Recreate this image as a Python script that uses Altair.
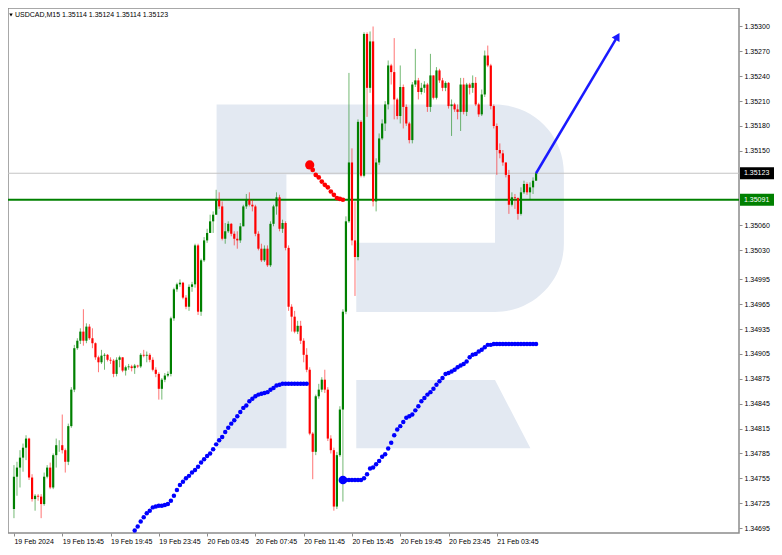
import altair as alt
import pandas as pd

# ---------------- data ----------------
time_labels = ["19 Feb 2024", "19 Feb 15:45", "19 Feb 19:45", "19 Feb 23:45",
               "20 Feb 03:45", "20 Feb 07:45", "20 Feb 11:45", "20 Feb 15:45",
               "20 Feb 19:45", "20 Feb 23:45", "21 Feb 03:45"]
time_label_bars = [0, 16, 32, 48, 64, 80, 96, 112, 128, 144, 160]
price_ticks = [1.35300, 1.35270, 1.35240, 1.35210, 1.35180, 1.35150, 1.35060,
               1.35030, 1.34995, 1.34965, 1.34935, 1.34905, 1.34875, 1.34845,
               1.34815, 1.34785, 1.34755, 1.34725, 1.34695]
header_text = "USDCAD,M15  1.35114 1.35124 1.35114 1.35123"

first_open = 1.34718
closes = [
    1.34757, 1.34768, 1.34780, 1.34792, 1.34803, 1.34756, 1.34730, 1.34734, 1.34733, 1.34724,
    1.34757, 1.34768, 1.34744, 1.34783, 1.34795, 1.34795, 1.34789, 1.34775, 1.34818, 1.34862,
    1.34912, 1.34921, 1.34932, 1.34921, 1.34938, 1.34924, 1.34918, 1.34901, 1.34895, 1.34903,
    1.34904, 1.34898, 1.34897, 1.34881, 1.34898, 1.34901, 1.34885, 1.34889, 1.34890, 1.34888,
    1.34891, 1.34890, 1.34904, 1.34903, 1.34904, 1.34898, 1.34886, 1.34881, 1.34863, 1.34874,
    1.34879, 1.34881, 1.34948, 1.34983, 1.34989, 1.34991, 1.34973, 1.34962, 1.34986, 1.34989,
    1.35036, 1.34956, 1.35018, 1.35042, 1.35051, 1.35065, 1.35073, 1.35091, 1.35083, 1.35044,
    1.35053, 1.35062, 1.35050, 1.35044, 1.35042, 1.35059, 1.35083, 1.35091, 1.35085, 1.35083,
    1.35050, 1.35032, 1.35018, 1.35032, 1.35012, 1.35062, 1.35083, 1.35094, 1.35056, 1.35063,
    1.35033, 1.34962, 1.34950, 1.34932, 1.34939, 1.34921, 1.34904, 1.34886, 1.34809, 1.34787,
    1.34854, 1.34862, 1.34874, 1.34862, 1.34803, 1.34789, 1.34721, 1.34783, 1.34838, 1.34956,
    1.35065, 1.35136, 1.35042, 1.35022, 1.35185, 1.35120, 1.35291, 1.35226, 1.35282, 1.35089,
    1.35136, 1.35165, 1.35183, 1.35206, 1.35253, 1.35245, 1.35212, 1.35192, 1.35227, 1.35203,
    1.35183, 1.35163, 1.35230, 1.35235, 1.35221, 1.35226, 1.35230, 1.35203, 1.35241, 1.35214,
    1.35247, 1.35235, 1.35226, 1.35232, 1.35204, 1.35206, 1.35200, 1.35197, 1.35230, 1.35197,
    1.35230, 1.35226, 1.35232, 1.35206, 1.35194, 1.35218, 1.35265, 1.35253, 1.35204, 1.35180,
    1.35151, 1.35147, 1.35136, 1.35121, 1.35085, 1.35094, 1.35093, 1.35074, 1.35100, 1.35110,
    1.35100, 1.35106, 1.35114, 1.35123]
highs = [
    1.34771, 1.34775, 1.34789, 1.34797, 1.34807, 1.34804, 1.34760, 1.34736, 1.34736, 1.34736,
    1.34762, 1.34771, 1.34774, 1.34785, 1.34803, 1.34801, 1.34832, 1.34791, 1.34821, 1.34865,
    1.34916, 1.34924, 1.34936, 1.34959, 1.34942, 1.34941, 1.34936, 1.34919, 1.34903, 1.34910,
    1.34906, 1.34905, 1.34901, 1.34899, 1.34901, 1.34903, 1.34901, 1.34891, 1.34893, 1.34892,
    1.34893, 1.34892, 1.34906, 1.34910, 1.34908, 1.34906, 1.34901, 1.34889, 1.34883, 1.34876,
    1.34882, 1.34884, 1.34950, 1.34985, 1.34991, 1.34995, 1.34992, 1.34976, 1.34989, 1.34992,
    1.35038, 1.35038, 1.35020, 1.35046, 1.35056, 1.35073, 1.35077, 1.35103, 1.35100, 1.35089,
    1.35063, 1.35065, 1.35063, 1.35053, 1.35053, 1.35063, 1.35085, 1.35098, 1.35100, 1.35091,
    1.35085, 1.35053, 1.35038, 1.35036, 1.35036, 1.35065, 1.35085, 1.35100, 1.35097, 1.35067,
    1.35065, 1.35036, 1.34965, 1.34957, 1.34945, 1.34945, 1.34924, 1.34912, 1.34889, 1.34811,
    1.34856, 1.34869, 1.34877, 1.34886, 1.34865, 1.34807, 1.34792, 1.34787, 1.34842, 1.34959,
    1.35071, 1.35244, 1.35153, 1.35089, 1.35188, 1.35187, 1.35293, 1.35293, 1.35294, 1.35300,
    1.35141, 1.35171, 1.35188, 1.35210, 1.35259, 1.35255, 1.35286, 1.35214, 1.35253, 1.35230,
    1.35206, 1.35185, 1.35233, 1.35273, 1.35238, 1.35232, 1.35234, 1.35232, 1.35267, 1.35241,
    1.35251, 1.35249, 1.35238, 1.35234, 1.35233, 1.35212, 1.35208, 1.35206, 1.35238, 1.35238,
    1.35232, 1.35232, 1.35241, 1.35239, 1.35208, 1.35224, 1.35271, 1.35277, 1.35255, 1.35206,
    1.35183, 1.35159, 1.35151, 1.35136, 1.35127, 1.35100, 1.35098, 1.35094, 1.35106, 1.35114,
    1.35112, 1.35112, 1.35118, 1.35124]
lows = [
    1.34707, 1.34734, 1.34744, 1.34763, 1.34777, 1.34753, 1.34727, 1.34716, 1.34728, 1.34707,
    1.34722, 1.34755, 1.34742, 1.34742, 1.34768, 1.34787, 1.34785, 1.34762, 1.34771, 1.34816,
    1.34859, 1.34910, 1.34917, 1.34915, 1.34918, 1.34922, 1.34912, 1.34898, 1.34883, 1.34893,
    1.34886, 1.34896, 1.34893, 1.34877, 1.34878, 1.34889, 1.34883, 1.34879, 1.34886, 1.34884,
    1.34881, 1.34888, 1.34888, 1.34901, 1.34895, 1.34895, 1.34884, 1.34877, 1.34850, 1.34850,
    1.34871, 1.34877, 1.34878, 1.34945, 1.34980, 1.34986, 1.34971, 1.34959, 1.34957, 1.34980,
    1.34985, 1.34952, 1.34951, 1.35016, 1.35039, 1.35051, 1.35051, 1.35073, 1.35080, 1.35042,
    1.35038, 1.35051, 1.35047, 1.35036, 1.35032, 1.35039, 1.35059, 1.35080, 1.35083, 1.35077,
    1.35047, 1.35030, 1.35016, 1.35016, 1.35010, 1.35010, 1.35059, 1.35073, 1.35053, 1.35051,
    1.35030, 1.34957, 1.34932, 1.34930, 1.34929, 1.34917, 1.34895, 1.34883, 1.34807, 1.34754,
    1.34783, 1.34851, 1.34859, 1.34858, 1.34800, 1.34785, 1.34716, 1.34718, 1.34781, 1.34727,
    1.34953, 1.35063, 1.35036, 1.34975, 1.35018, 1.35118, 1.35118, 1.35191, 1.35220, 1.35083,
    1.35077, 1.35133, 1.35163, 1.35174, 1.35200, 1.35230, 1.35188, 1.35188, 1.35183, 1.35177,
    1.35180, 1.35159, 1.35159, 1.35227, 1.35212, 1.35218, 1.35220, 1.35197, 1.35197, 1.35212,
    1.35212, 1.35232, 1.35222, 1.35222, 1.35201, 1.35168, 1.35197, 1.35188, 1.35174, 1.35194,
    1.35192, 1.35218, 1.35220, 1.35204, 1.35191, 1.35192, 1.35215, 1.35251, 1.35200, 1.35177,
    1.35121, 1.35141, 1.35132, 1.35118, 1.35074, 1.35083, 1.35080, 1.35067, 1.35072, 1.35098,
    1.35097, 1.35091, 1.35098, 1.35114]

red_start = 98
red_dots = [1.35133, 1.35127, 1.35121, 1.35118, 1.35113, 1.35109, 1.35106, 1.35101,
            1.35097, 1.35093, 1.35092, 1.35091]

blue_a_start = 40
blue_a = [1.34692, 1.34697, 1.34703, 1.34708, 1.34713, 1.34716, 1.34720, 1.34721, 1.34722, 1.34722,
          1.34723, 1.34724, 1.34728, 1.34734, 1.34741, 1.34747, 1.34751, 1.34755, 1.34758, 1.34762,
          1.34765, 1.34769, 1.34774, 1.34778, 1.34782, 1.34785, 1.34790, 1.34796, 1.34801, 1.34805,
          1.34811, 1.34816, 1.34821, 1.34825, 1.34830, 1.34835, 1.34840, 1.34843, 1.34848, 1.34851,
          1.34854, 1.34856, 1.34857, 1.34858, 1.34859, 1.34862, 1.34864, 1.34867, 1.34868, 1.34869,
          1.34869, 1.34869, 1.34869, 1.34869, 1.34869, 1.34869, 1.34869, 1.34869]

blue_b_start = 109
blue_b = [1.34753, 1.34753, 1.34753, 1.34753, 1.34753, 1.34753, 1.34753, 1.34755, 1.34760, 1.34767,
          1.34768, 1.34772, 1.34776, 1.34781, 1.34784, 1.34791, 1.34798, 1.34807, 1.34814, 1.34818,
          1.34823, 1.34828, 1.34830, 1.34832, 1.34837, 1.34842, 1.34848, 1.34852, 1.34856, 1.34859,
          1.34863, 1.34868, 1.34872, 1.34876, 1.34881, 1.34882, 1.34884, 1.34886, 1.34889, 1.34891,
          1.34893, 1.34896, 1.34901, 1.34904, 1.34905, 1.34908, 1.34910, 1.34913, 1.34916, 1.34916,
          1.34917, 1.34917, 1.34917, 1.34917, 1.34917, 1.34917, 1.34917, 1.34917, 1.34917, 1.34917,
          1.34917, 1.34917, 1.34917, 1.34917, 1.34917]

support_level = 1.35091
last_price = 1.35123
arrow_bars = [173, 200]
arrow_prices = [1.35123, 1.35288]

# ---------------- layout / style ----------------
W, H = 731, 525            # plot area
PAD_R, PAD_B = 35, 12      # room for the price scale and the time scale
FONT = "Liberation Sans"
FS = 7
UP, DOWN = "#008000", "#ff0000"
BLUE = "#0000ff"
LOGO = "#e3e9f2"
GRID = "#8c8c8c"

opens = [first_open] + closes[:-1]
candles = pd.DataFrame({"i": list(range(len(closes))), "open": opens, "high": highs,
                        "low": lows, "close": closes})
candles["dir"] = ["up" if c >= o else "down" for o, c in zip(opens, closes)]

def dots(start, vals):
    return pd.DataFrame({"i": list(range(start, start + len(vals))), "v": vals})

red_df = dots(red_start, red_dots)
blue_a_df = dots(blue_a_start, blue_a)
blue_b_df = dots(blue_b_start, blue_b)

xscale = alt.Scale(domain=[-0.32, 238.59], nice=False, zero=False)
yscale = alt.Scale(domain=[1.346891, 1.353223], nice=False, zero=False)

label_js = "[" + ",".join("'%s'" % t for t in time_labels) + "]"
xaxis = alt.Axis(values=time_label_bars, labelExpr=label_js + "[round(datum.value/16)]",
                 orient="bottom", grid=False, domain=False, ticks=True, tickSize=3,
                 tickColor=GRID, labelAlign="left", labelBaseline="top", labelPadding=1,
                 labelFont=FONT, labelFontSize=FS, labelColor="black",
                 labelOverlap=False, labelFlush=False, title=None)
yaxis = alt.Axis(values=price_ticks, format=".5f", orient="right", grid=False, domain=False,
                 ticks=True, tickSize=3, tickColor=GRID, labelAlign="left",
                 labelBaseline="middle", labelPadding=2, labelFont=FONT, labelFontSize=FS,
                 labelColor="black", labelOverlap=False, labelFlush=False, title=None)

def X(f):
    return alt.X(f, type="quantitative", scale=xscale, axis=xaxis)

def Y(f):
    return alt.Y(f, type="quantitative", scale=yscale, axis=yaxis)

dir_color = alt.Color("dir:N", scale=alt.Scale(domain=["up", "down"], range=[UP, DOWN]), legend=None)

# watermark logo: outline measured in screen pixels of the original, mapped into this plot
RX0, RY0, SX, SY = 2, 1, W / 743, H / 539
LCX, LCY, LS = 375, 265, 200
K = 0.5523 * 70
stem_bowl = [("M", 214, 100), ("L", 497, 100), ("C", 497 + K, 100, 567, 170 - K, 567, 170),
             ("L", 567, 243), ("C", 567, 243 + K, 497 + K, 313, 497, 313),
             ("L", 356, 313), ("L", 356, 242), ("L", 497, 242),
             ("L", 497, 172), ("L", 285, 172), ("L", 285, 453), ("L", 214, 453), ("Z",)]
leg = [("M", 356, 383), ("L", 497, 383), ("L", 533, 453), ("L", 356, 453), ("Z",)]

def to_path(cmds):
    out = []
    for c in cmds:
        if c[0] == "Z":
            out.append("Z")
            continue
        pts = c[1:]
        nums = []
        for k in range(0, len(pts), 2):
            px = (pts[k] - RX0) * SX
            py = (pts[k + 1] - RY0) * SY
            nums.append("%.4f" % ((px - LCX) / LS))
            nums.append("%.4f" % ((py - LCY) / LS))
        out.append(c[0] + " " + " ".join(nums))
    return " ".join(out)

logo_path = to_path(stem_bowl) + " " + to_path(leg)
one = pd.DataFrame({"k": [0]})
logo = alt.Chart(one).mark_point(shape=logo_path, size=(2 * LS) ** 2, filled=True,
                                 opacity=1, strokeWidth=0, color=LOGO).encode(
    x=alt.value(LCX), y=alt.value(LCY))

price_line = alt.Chart(pd.DataFrame({"v": [last_price]})).mark_rule(
    color="#c4c4c4", strokeWidth=1).encode(y=Y("v"))
support_line = alt.Chart(pd.DataFrame({"v": [support_level]})).mark_rule(
    color="#008000", strokeWidth=2).encode(y=Y("v"))

wicks = alt.Chart(candles).mark_rule(strokeWidth=1, opacity=0.55).encode(
    x=X("i"), y=Y("low"), y2="high", color=dir_color)
bodies = alt.Chart(candles).mark_bar(width=2.2).encode(
    x=X("i"), y=Y("open"), y2="close", color=dir_color)

blue_a_pts = alt.Chart(blue_a_df).mark_circle(size=20, color=BLUE, opacity=1).encode(x=X("i"), y=Y("v"))
blue_b_pts = alt.Chart(blue_b_df).mark_circle(size=20, color=BLUE, opacity=1).encode(x=X("i"), y=Y("v"))
blue_b_big = alt.Chart(blue_b_df.head(1)).mark_circle(size=75, color=BLUE, opacity=1).encode(x=X("i"), y=Y("v"))
red_pts = alt.Chart(red_df).mark_circle(size=22, color=DOWN, opacity=1).encode(x=X("i"), y=Y("v"))
red_big = alt.Chart(red_df.head(1)).mark_circle(size=85, color=DOWN, opacity=1).encode(x=X("i"), y=Y("v"))

arrow_df = pd.DataFrame({"i": arrow_bars, "v": arrow_prices})
arrow_line = alt.Chart(arrow_df).mark_line(color="#1a1aff", strokeWidth=2.5).encode(x=X("i"), y=Y("v"))
arrow_head = alt.Chart(arrow_df.tail(1)).mark_point(shape="triangle-up", size=80, angle=30,
                                                   filled=True, opacity=1, color="#1a1aff").encode(
    x=X("i"), y=Y("v"))

header_tri = alt.Chart(one).mark_point(shape="triangle-down", size=12, filled=True,
                                       opacity=1, color="black").encode(
    x=alt.value(3), y=alt.value(7))
header = alt.Chart(pd.DataFrame({"t": [header_text]})).mark_text(
    align="left", baseline="middle", font=FONT, fontSize=FS, color="black").encode(
    x=alt.value(7), y=alt.value(7), text="t:N")

boxes = pd.DataFrame({"v": [last_price, support_level], "t": ["1.35123", "1.35091"],
                      "c": ["#000000", "#008000"]})
box_rect = alt.Chart(boxes).mark_rect(yOffset=-6, y2Offset=6).encode(
    x=alt.value(W + 1), x2=alt.value(W + PAD_R), y=Y("v"), y2="v",
    color=alt.Color("c:N", scale=None))
box_text = alt.Chart(boxes).mark_text(align="left", baseline="middle", font=FONT,
                                      fontSize=FS, color="white").encode(
    x=alt.value(W + 5), y=Y("v"), text="t:N")

chart = alt.layer(
    logo, price_line, support_line, wicks, bodies, blue_a_pts, blue_b_pts, blue_b_big,
    red_pts, red_big, arrow_line, arrow_head, header_tri, header, box_rect, box_text
).properties(
    width=W, height=H, background="white",
    autosize=alt.AutoSizeParams(type="none"),
    padding={"left": 0, "top": 0, "right": PAD_R, "bottom": PAD_B},
).configure_view(stroke=GRID, strokeWidth=1.5)

chart.save("out.html", embed_options={"renderer": "svg", "actions": False})
